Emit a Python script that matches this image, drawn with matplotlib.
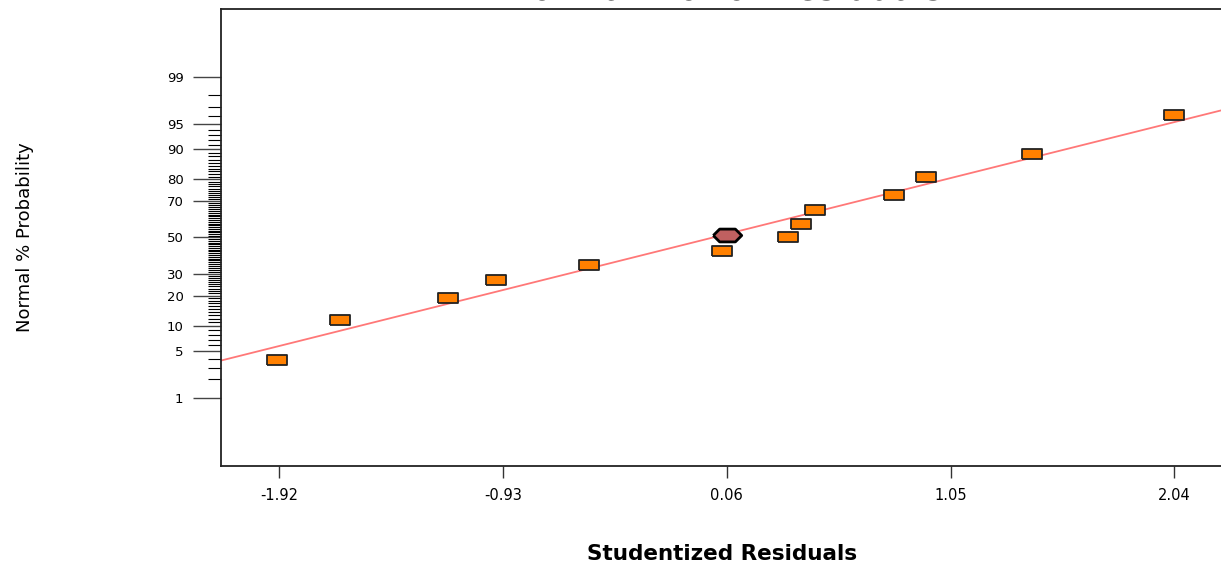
from statistics import NormalDist

from matplotlib import pyplot as plt

# studentized residuals and their normal % probability
residuals = [-1.93, -1.65, -1.17, -0.96, -0.55, 0.04, 0.33, 0.39, 0.45, 0.80, 0.94, 1.41, 2.04]
probability = [3.85, 11.5, 19.2, 26.9, 34.6, 42.3, 50.0, 57.7, 65.4, 73.1, 80.8, 88.5, 96.2]

# highlighted run
highlight_residual = [0.06]
highlight_probability = [51.6]

# reference line in normal-score units: z = slope * x + intercept
line_slope = 0.818
line_intercept = 0.0

x_ticks = [-1.92, -0.93, 0.06, 1.05, 2.04]
y_major = [1, 5, 10, 20, 30, 50, 70, 80, 90, 95, 99]
y_minor = [p for p in range(1, 100) if p not in y_major]

nd = NormalDist()


def z(p_percent):
    return nd.inv_cdf(p_percent / 100.0)


def plot_normal_residuals():
    fig = plt.figure(figsize=(12.21, 5.62), dpi=100)
    ax = fig.add_axes([221 / 1221, 0.1714, 1000 / 1221, 0.8121])

    # fitted line
    ax.axline((0, line_intercept), slope=line_slope, color="#ff7878", lw=1.3, zorder=2)

    rect = [(-1, -0.47), (1, -0.47), (1, 0.47), (-1, 0.47), (-1, -0.47)]
    ax.plot(residuals, [z(p) for p in probability], ls="none", marker=rect,
            markersize=14.8, markerfacecolor="#ff8000", markeredgecolor="#222222",
            markeredgewidth=1.3, zorder=3)

    hexa = [(-1, 0), (-0.55, 0.45), (0.55, 0.45), (1, 0), (0.55, -0.45), (-0.55, -0.45), (-1, 0)]
    ax.plot(highlight_residual, [z(p) for p in highlight_probability], ls="none", marker=hexa,
            markersize=20.5, markerfacecolor="#c06060", markeredgecolor="black",
            markeredgewidth=2.0, zorder=4)

    ax.set_xlim(-2.176, 2.246)
    ax.set_ylim(-3.30, 3.30)

    # x axis
    ax.set_xticks(x_ticks)
    ax.set_xticklabels(["%.2f" % v for v in x_ticks])
    ax.tick_params(axis="x", direction="out", length=8.6, width=1.0, pad=7.5,
                   labelsize=10.5, color="#333333")

    # y axis, probability scale
    ax.set_yticks([z(p) for p in y_major])
    ax.set_yticklabels([str(p) for p in y_major])
    ax.set_yticks([z(p) for p in y_minor], minor=True)
    ax.tick_params(axis="y", which="major", direction="out", length=20, width=1.0,
                   pad=7, labelsize=9.5, color="#444444")
    ax.tick_params(axis="y", which="minor", direction="out", length=9.4, width=0.8,
                   color="black")

    for side in ["left", "bottom", "top"]:
        ax.spines[side].set_linewidth(1.3)
        ax.spines[side].set_color("#222222")
    ax.spines["right"].set_visible(False)

    ax.set_xlabel("Studentized Residuals", fontsize=15.5, fontweight="bold")
    ax.xaxis.set_label_coords(0.5015, -0.2066)
    ax.xaxis.label.set_verticalalignment("baseline")

    ax.set_ylabel("Normal % Probability", fontsize=13)
    ax.yaxis.set_label_coords(-0.196, 0.501)
    ax.yaxis.label.set_verticalalignment("center")
    ax.yaxis.label.set_horizontalalignment("center")

    # title sits mostly above the canvas, as in the original export
    fig.text(723 / 1221, 1 + 1 / 562, "Normal Plot of Residuals", ha="center",
             va="baseline", fontsize=26)

    fig.savefig("out.png", dpi=100)


if __name__ == "__main__":
    plot_normal_residuals()
